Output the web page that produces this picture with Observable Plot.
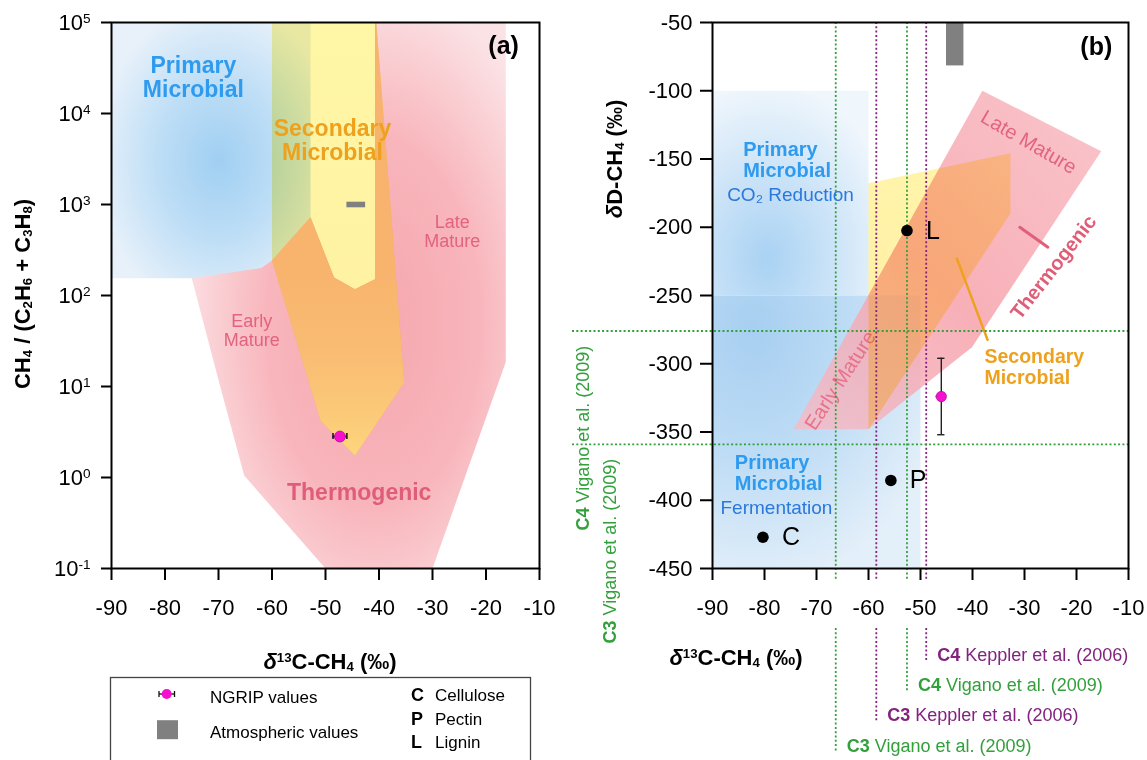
<!DOCTYPE html>
<html><head><meta charset="utf-8">
<script src="https://cdn.jsdelivr.net/npm/d3@7"></script>
<script src="https://cdn.jsdelivr.net/npm/@observablehq/plot@0.6"></script>
<style>
body{margin:0;background:#fff;font-family:"Liberation Sans",Arial,Helvetica,sans-serif;}
#wrap{position:relative;width:1147px;height:760px;overflow:hidden;background:#fff;}
#wrap svg{position:absolute;display:block;max-width:none;}
.ttl{position:absolute;font-weight:bold;font-size:22px;white-space:nowrap;color:#000;line-height:1;transform:translate(-50%,-50%);}
.ttl.rot{transform:translate(-50%,-50%) rotate(-90deg);}
.ttl sup{font-size:0.6em;line-height:0;vertical-align:0.55em;}
.ttl sub{font-size:0.6em;line-height:0;vertical-align:-0.15em;}
</style></head><body><div id="wrap"></div>
<script>
const FONT = '"Liberation Sans", Arial, Helvetica, sans-serif';

// ---------- DATA ----------
const xTicks = [-90, -80, -70, -60, -50, -40, -30, -20, -10];
const yTicksA = [0.1, 1, 10, 100, 1000, 10000, 100000];
const yTicksB = [-50, -100, -150, -200, -250, -300, -350, -400, -450];

// Panel (a): [δ13C-CH4, CH4/(C2H6+C3H8)]
const primaryA   = [[-90,1e5],[-52.8,1e5],[-52.8,725],[-60,243],[-62,200],[-75,155],[-90,155]];
const thermoA    = [[-75,155],[-62,200],[-60,243],[-52.8,725],[-48.4,158],[-44.5,117],[-40.75,151],[-40.75,1e5],
                    [-16.3,1e5],[-16.3,18.6],[-30,0.1],[-50,0.1],[-65.2,1.05],[-70,11.8]];
const secondaryA = [[-60,1e5],[-40.5,1e5],[-35.3,11.1],[-44.5,1.75],[-50.9,4.2],[-60,243]];
// part of the secondary field lying over the thermogenic field
const secondaryOverThermoA = [[-60,243],[-52.8,725],[-48.4,158],[-44.5,117],[-40.75,151],[-40.75,1e5],
                              [-40.5,1e5],[-35.3,11.1],[-44.5,1.75],[-50.9,4.2]];
const ngripA = [{c: -47.3, r: 2.82, cErr: 1.3}];
const atmosA = [{c1: -46.0, c2: -42.5, r1: 920, r2: 1060}];
const labelsA = [
  {c: -74.7, r: 24900, text: "Primary\nMicrobial", kind: "primary"},
  {c: -48.7, r: 5120,  text: "Secondary\nMicrobial", kind: "secondary"},
  {c: -26.3, r: 505,   text: "Late\nMature", kind: "mature"},
  {c: -63.8, r: 41.2,  text: "Early\nMature", kind: "mature"},
  {c: -43.7, r: 0.69,  text: "Thermogenic", kind: "thermo"},
  {c: -16.7, r: 54500, text: "(a)", kind: "panel"}
];

// Panel (b): [δ13C-CH4, δD-CH4]
const primaryCO2B  = [[-90,-100],[-60,-100],[-60,-250],[-90,-250]];
const primaryFermB = [[-90,-250],[-50,-250],[-50,-450],[-90,-450]];
const thermoB      = [[-74.4,-348],[-38.1,-100],[-15.25,-144.3],[-40.1,-288],[-60,-348]];
const secondaryB   = [[-60,-167.7],[-32.7,-145.7],[-32.7,-190],[-60,-348]];
const thermoTickB  = [[-30.9,-200],[-25.5,-214.6]];
const secondaryTickB = [[-43,-223],[-37.1,-282.5]];
const substrates = [
  {name: "C", c: -80.3, d: -427.1},
  {name: "P", c: -55.7, d: -385.5},
  {name: "L", c: -52.6, d: -202.4}
];
const ngripB = [{c: -46.0, d: -324, cErr: 0.5, dErr: 28}];
const atmosB = [{c1: -45.0, c2: -41.65, d1: -81.8, d2: -50}];
const plantC13 = [
  {label: "C3 Vigano et al. (2009)",  c: -66.3, src: "vigano",  row: 3},
  {label: "C3 Keppler et al. (2006)", c: -58.5, src: "keppler", row: 2},
  {label: "C4 Vigano et al. (2009)",  c: -52.6, src: "vigano",  row: 1},
  {label: "C4 Keppler et al. (2006)", c: -48.9, src: "keppler", row: 0}
];
const plantD = [
  {label: "C4 Vigano et al. (2009)", d: -276, col: 0},
  {label: "C3 Vigano et al. (2009)", d: -359, col: 1}
];
const labelsB = [
  {c: -84.1, d: -150.7, text: "Primary\nMicrobial"},
  {c: -85.7, d: -379.7, text: "Primary\nMicrobial"}
];
const sublabelsB = [
  {c: -75.0, d: -176.4, text: "CO₂ Reduction"},
  {c: -77.7, d: -405.3, text: "Fermentation"}
];

// ---------- STYLE ----------
const BLUE = "#2f9bef", BLUE2 = "#2a78dc", ORANGE = "#eea11c", PINK = "#e2637e";
const GREEN = "#33a03c", PURPLE = "#82237f", MAGENTA = "#f70fd0";
const srcColor = s => s === "vigano" ? GREEN : PURPLE;

// pixel helpers for panel (b) outside-frame annotations
const dFromPx = px => -50 - (px - 22) * 400 / 546;
const cFromPx = px => -90 + (px - 712) * 80 / 416;

const wrap = document.getElementById("wrap");
const poly = (pts, fill, extra = {}) => Plot.line(pts, {x: d => d[0], y: d => d[1], fill, stroke: "none", ...extra});

function finish(svg, defsHtml) {
  const ns = "http://www.w3.org/2000/svg";
  const defs = document.createElementNS(ns, "defs");
  defs.innerHTML = defsHtml;
  svg.insertBefore(defs, svg.firstChild);
  svg.querySelectorAll('[fill^="url(#m"]').forEach(el => el.style.mixBlendMode = "multiply");
  svg.querySelectorAll("text").forEach(t => {
    const s = t.textContent;
    let m = s.match(/^10\^(-?\d+)$/);
    if (m) {
      t.textContent = "10";
      const ts = document.createElementNS(ns, "tspan");
      ts.setAttribute("dy", "-0.48em"); ts.setAttribute("font-size", "0.62em");
      ts.textContent = m[1]; t.appendChild(ts); return;
    }
    m = s.match(/^(C[34]) (.+)$/);
    if (m) {
      t.textContent = "";
      const b = document.createElementNS(ns, "tspan");
      b.setAttribute("font-weight", "bold"); b.textContent = m[1];
      const r = document.createElementNS(ns, "tspan");
      r.textContent = "\u00a0" + m[2];
      t.appendChild(b); t.appendChild(r);
    }
  });
}

// ---------- PANEL A ----------
const plotA = Plot.plot({
  width: 560, height: 600,
  marginLeft: 111, marginRight: 21, marginTop: 22, marginBottom: 32,
  style: {fontFamily: FONT, fontSize: "22px", background: "transparent", overflow: "visible"},
  x: {domain: [-90, -10]},
  y: {type: "log", domain: [0.1, 1e5]},
  marks: [
    poly(primaryA, "url(#maBlue)"),
    poly(thermoA, "url(#maPink)"),
    poly(secondaryA, "url(#maYellow)"),
    poly(secondaryOverThermoA, "url(#naOrange)"),
    Plot.text(labelsA.filter(d => d.kind === "primary"), {x: "c", y: "r", text: "text", fill: BLUE, fontSize: 23, fontWeight: "bold", lineHeight: 1.04}),
    Plot.text(labelsA.filter(d => d.kind === "secondary"), {x: "c", y: "r", text: "text", fill: ORANGE, fontSize: 23, fontWeight: "bold", lineHeight: 1.04}),
    Plot.text(labelsA.filter(d => d.kind === "mature"), {x: "c", y: "r", text: "text", fill: PINK, fontSize: 18, lineHeight: 1.04}),
    Plot.text(labelsA.filter(d => d.kind === "thermo"), {x: "c", y: "r", text: "text", fill: "#e05d78", fontSize: 23, fontWeight: "bold"}),
    Plot.text(labelsA.filter(d => d.kind === "panel"), {x: "c", y: "r", text: "text", fill: "black", fontSize: 25, fontWeight: "bold"}),
    Plot.rect(atmosA, {x1: "c1", x2: "c2", y1: "r1", y2: "r2", fill: "#808080"}),
    Plot.ruleY(ngripA, {y: "r", x1: d => d.c - d.cErr, x2: d => d.c + d.cErr, stroke: "#111", strokeWidth: 1.5}),
    Plot.ruleX(ngripA, {x: d => d.c - d.cErr, y1: d => d.r / 1.08, y2: d => d.r * 1.08, stroke: "#111", strokeWidth: 1.5}),
    Plot.ruleX(ngripA, {x: d => d.c + d.cErr, y1: d => d.r / 1.08, y2: d => d.r * 1.08, stroke: "#111", strokeWidth: 1.5}),
    Plot.dot(ngripA, {x: "c", y: "r", r: 5.5, fill: MAGENTA, stroke: "#a0008a", strokeWidth: 0.6}),
    Plot.axisX({ticks: xTicks, tickSize: 12, tickPadding: 19, tickFormat: d => String(d), strokeWidth: 2, label: null}),
    Plot.axisY({ticks: yTicksA, tickSize: 10, tickPadding: 11, tickFormat: d => "10^" + Math.round(Math.log10(d)), strokeWidth: 2, label: null}),
    Plot.frame({stroke: "black", strokeWidth: 2})
  ]
});
plotA.style.left = "0px"; plotA.style.top = "0px";
finish(plotA, `
  <radialGradient id="maBlue" cx="0.54" cy="0.54" r="0.62">
    <stop offset="0" stop-color="#a0cff2"/><stop offset="0.5" stop-color="#bedef6"/><stop offset="1" stop-color="#e8f1fa"/>
  </radialGradient>
  <radialGradient id="maPink" cx="0.58" cy="0.55" r="0.62">
    <stop offset="0" stop-color="#f6a6ae"/><stop offset="0.55" stop-color="#f8b6bc"/><stop offset="1" stop-color="#fbe2e5"/>
  </radialGradient>
  <linearGradient id="maYellow" x1="0" y1="0" x2="0" y2="1">
    <stop offset="0" stop-color="#fff6a6"/><stop offset="1" stop-color="#fff1a0"/>
  </linearGradient>
  <linearGradient id="naOrange" x1="0" y1="0" x2="0" y2="1">
    <stop offset="0" stop-color="#f7b46e"/><stop offset="0.55" stop-color="#f8b36d"/>
    <stop offset="0.75" stop-color="#f9bb72"/><stop offset="0.9" stop-color="#fbc978"/><stop offset="1" stop-color="#fdd67c"/>
  </linearGradient>`);
wrap.appendChild(plotA);

// ---------- PANEL B ----------
const rowPx = [655, 685, 715, 746];
const segTop = plantC13.map(d => ({...d, y1: -50, y2: dFromPx(580)}));
const segBot = plantC13.map(d => ({...d, y1: dFromPx(628), y2: dFromPx(rowPx[d.row] + 6)}));
const dash = {strokeDasharray: "2,2.3", strokeWidth: 1.8};
const colPx = [583, 610], colStartPx = [530, 643];

const plotB = Plot.plot({
  width: 587, height: 760,
  marginLeft: 152, marginRight: 19, marginTop: 22, marginBottom: 192,
  style: {fontFamily: FONT, fontSize: "22px", background: "transparent", overflow: "visible"},
  x: {domain: [-90, -10]},
  y: {domain: [-450, -50]},
  marks: [
    poly(primaryCO2B, "url(#nbBlue1)"),
    poly(primaryFermB, "url(#nbBlue2)"),
    poly(thermoB, "url(#nbPink)", {fillOpacity: 0.82}),
    Plot.text(["Early Mature"], {x: -65.4, y: -312.3, text: d => d, rotate: -57, fill: "#e9718b", fontSize: 20}),
    poly(secondaryB, "url(#mbYellow)"),
    Plot.line(thermoTickB, {x: d => d[0], y: d => d[1], stroke: "#e0607a", strokeWidth: 3}),
    Plot.line(secondaryTickB, {x: d => d[0], y: d => d[1], stroke: ORANGE, strokeWidth: 2.5}),
    Plot.rect(atmosB, {x1: "c1", x2: "c2", y1: "d1", y2: "d2", fill: "#808080"}),
    // plant reference lines
    ...["vigano", "keppler"].map(s => Plot.ruleX(segTop.filter(d => d.src === s), {x: "c", y1: "y1", y2: "y2", stroke: srcColor(s), ...dash})),
    ...["vigano", "keppler"].map(s => Plot.ruleX(segBot.filter(d => d.src === s), {x: "c", y1: "y1", y2: "y2", stroke: srcColor(s), ...dash})),
    Plot.ruleY(plantD, {y: "d", x1: cFromPx(572), x2: -10, stroke: GREEN, ...dash}),
    ...["vigano", "keppler"].map(s => Plot.text(plantC13.filter(d => d.src === s), {
      x: "c", y: d => dFromPx(rowPx[d.row]), text: "label", dx: 11, textAnchor: "start", lineAnchor: "middle",
      fill: srcColor(s), fontSize: 18})),
    Plot.text(plantD, {x: d => cFromPx(colPx[d.col]), y: d => dFromPx(colStartPx[d.col]), text: "label", rotate: -90,
      textAnchor: "start", lineAnchor: "middle", fill: GREEN, fontSize: 18}),
    // labels
    Plot.text(labelsB, {x: "c", y: "d", text: "text", textAnchor: "start", fill: BLUE, fontSize: 20, fontWeight: "bold", lineHeight: 1.04}),
    Plot.text(sublabelsB, {x: "c", y: "d", text: "text", fill: BLUE2, fontSize: 19}),
    Plot.text(["Secondary\nMicrobial"], {x: -37.7, y: -302.4, text: d => d, textAnchor: "start", fill: ORANGE, fontSize: 19.5, fontWeight: "bold", lineHeight: 1.04}),
    Plot.text(["Late Mature"], {x: -29.2, y: -137.7, text: d => d, rotate: 30, fill: PINK, fontSize: 20}),
    Plot.text(["Thermogenic"], {x: -24.4, y: -229.3, text: d => d, rotate: -52, fill: "#e05d78", fontSize: 20, fontWeight: "bold"}),
    Plot.text(["(b)"], {x: -16.2, y: -67.6, text: d => d, fill: "black", fontSize: 25, fontWeight: "bold"}),
    // substrates
    Plot.dot(substrates, {x: "c", y: "d", r: 5.8, fill: "black"}),
    Plot.text(substrates, {x: "c", y: "d", text: "name", dx: 19, textAnchor: "start", fill: "black", fontSize: 25}),
    // NGRIP
    Plot.ruleX(ngripB, {x: "c", y1: d => d.d - d.dErr, y2: d => d.d + d.dErr, stroke: "#222", strokeWidth: 1.4}),
    Plot.ruleY(ngripB, {y: d => d.d - d.dErr, x1: d => d.c - 0.7, x2: d => d.c + 0.7, stroke: "#222", strokeWidth: 1.4}),
    Plot.ruleY(ngripB, {y: d => d.d + d.dErr, x1: d => d.c - 0.7, x2: d => d.c + 0.7, stroke: "#222", strokeWidth: 1.4}),
    Plot.ruleY(ngripB, {y: "d", x1: d => d.c - d.cErr - 0.5, x2: d => d.c + d.cErr + 0.5, stroke: "#222", strokeWidth: 1.4}),
    Plot.dot(ngripB, {x: "c", y: "d", r: 5.2, fill: MAGENTA, stroke: "#a0008a", strokeWidth: 0.6}),
    Plot.axisX({ticks: xTicks, tickSize: 12, tickPadding: 19, tickFormat: d => String(d), strokeWidth: 2, label: null}),
    Plot.axisY({ticks: yTicksB, tickSize: 12, tickPadding: 8, tickFormat: d => String(d), strokeWidth: 2, label: null}),
    Plot.frame({stroke: "black", strokeWidth: 2})
  ]
});
plotB.style.left = "560px"; plotB.style.top = "0px";
finish(plotB, `
  <radialGradient id="nbBlue1" cx="0.35" cy="0.82" r="0.85">
    <stop offset="0" stop-color="#a9d2f3"/><stop offset="0.55" stop-color="#cfe5f8"/><stop offset="1" stop-color="#eff6fc"/>
  </radialGradient>
  <radialGradient id="nbBlue2" cx="0.2" cy="0.12" r="0.95">
    <stop offset="0" stop-color="#a7cff1"/><stop offset="0.5" stop-color="#bedcf5"/><stop offset="1" stop-color="#e3eff9"/>
  </radialGradient>
  <linearGradient id="nbPink" x1="0" y1="1" x2="1" y2="0">
    <stop offset="0" stop-color="#f6bcc6"/><stop offset="0.45" stop-color="#f69ea8"/><stop offset="1" stop-color="#f8b8bf"/>
  </linearGradient>
  <linearGradient id="mbYellow" x1="0" y1="0" x2="0" y2="1">
    <stop offset="0" stop-color="#fff4aa"/><stop offset="1" stop-color="#fff0a4"/>
  </linearGradient>`);
wrap.appendChild(plotB);

// ---------- AXIS TITLES ----------
function title(html, cx, cy, rot) {
  const d = document.createElement("div");
  d.className = "ttl" + (rot ? " rot" : "");
  d.style.left = cx + "px"; d.style.top = cy + "px";
  d.innerHTML = html; wrap.appendChild(d);
}
const dC = '<i>δ</i><sup>13</sup>C-CH<sub>4</sub> (‰)';
title(dC, 330, 662, false);
title(dC, 736, 658, false);
title('CH<sub>4</sub> / (C<sub>2</sub>H<sub>6</sub> + C<sub>3</sub>H<sub>8</sub>)', 22.5, 294, true);
title('<i>δ</i>D-CH<sub>4</sub> (‰)', 615, 159, true);

// ---------- LEGEND ----------
const legendItems = [
  {type: "ngrip", label: "NGRIP values"},
  {type: "atmos", label: "Atmospheric values"}
];
const legendSubstrates = [
  {key: "C", label: "Cellulose"},
  {key: "P", label: "Pectin"},
  {key: "L", label: "Lignin"}
];
const lg = d3.create("svg").attr("width", 450).attr("height", 90)
  .style("left", "100px").style("top", "670px").style("font-family", FONT);
lg.append("rect").attr("x", 10.5).attr("y", 7.5).attr("width", 420).attr("height", 100)
  .attr("fill", "none").attr("stroke", "#444").attr("stroke-width", 1.3);
const rowY = [27, 61.7];
legendItems.forEach((it, i) => {
  const y = rowY[i];
  if (it.type === "ngrip") {
    lg.append("line").attr("x1", 59).attr("x2", 74.5).attr("y1", y - 3).attr("y2", y - 3).attr("stroke", "#111").attr("stroke-width", 1.3);
    lg.append("line").attr("x1", 59).attr("x2", 59).attr("y1", y - 6).attr("y2", y).attr("stroke", "#111").attr("stroke-width", 1.3);
    lg.append("line").attr("x1", 74.5).attr("x2", 74.5).attr("y1", y - 6).attr("y2", y).attr("stroke", "#111").attr("stroke-width", 1.3);
    lg.append("circle").attr("cx", 66.7).attr("cy", y - 3).attr("r", 5).attr("fill", MAGENTA);
  } else {
    lg.append("rect").attr("x", 57).attr("y", y - 11.5).attr("width", 21).attr("height", 19).attr("fill", "#808080");
  }
  lg.append("text").attr("x", 110).attr("y", y + 6).attr("font-size", 17).text(it.label);
});
const subY = [25, 49.3, 71.7];
legendSubstrates.forEach((s, i) => {
  lg.append("text").attr("x", 311).attr("y", subY[i] + 6).attr("font-size", 18).attr("font-weight", "bold").text(s.key);
  lg.append("text").attr("x", 335).attr("y", subY[i] + 6).attr("font-size", 17).text(s.label);
});
wrap.appendChild(lg.node());
</script></body></html>
